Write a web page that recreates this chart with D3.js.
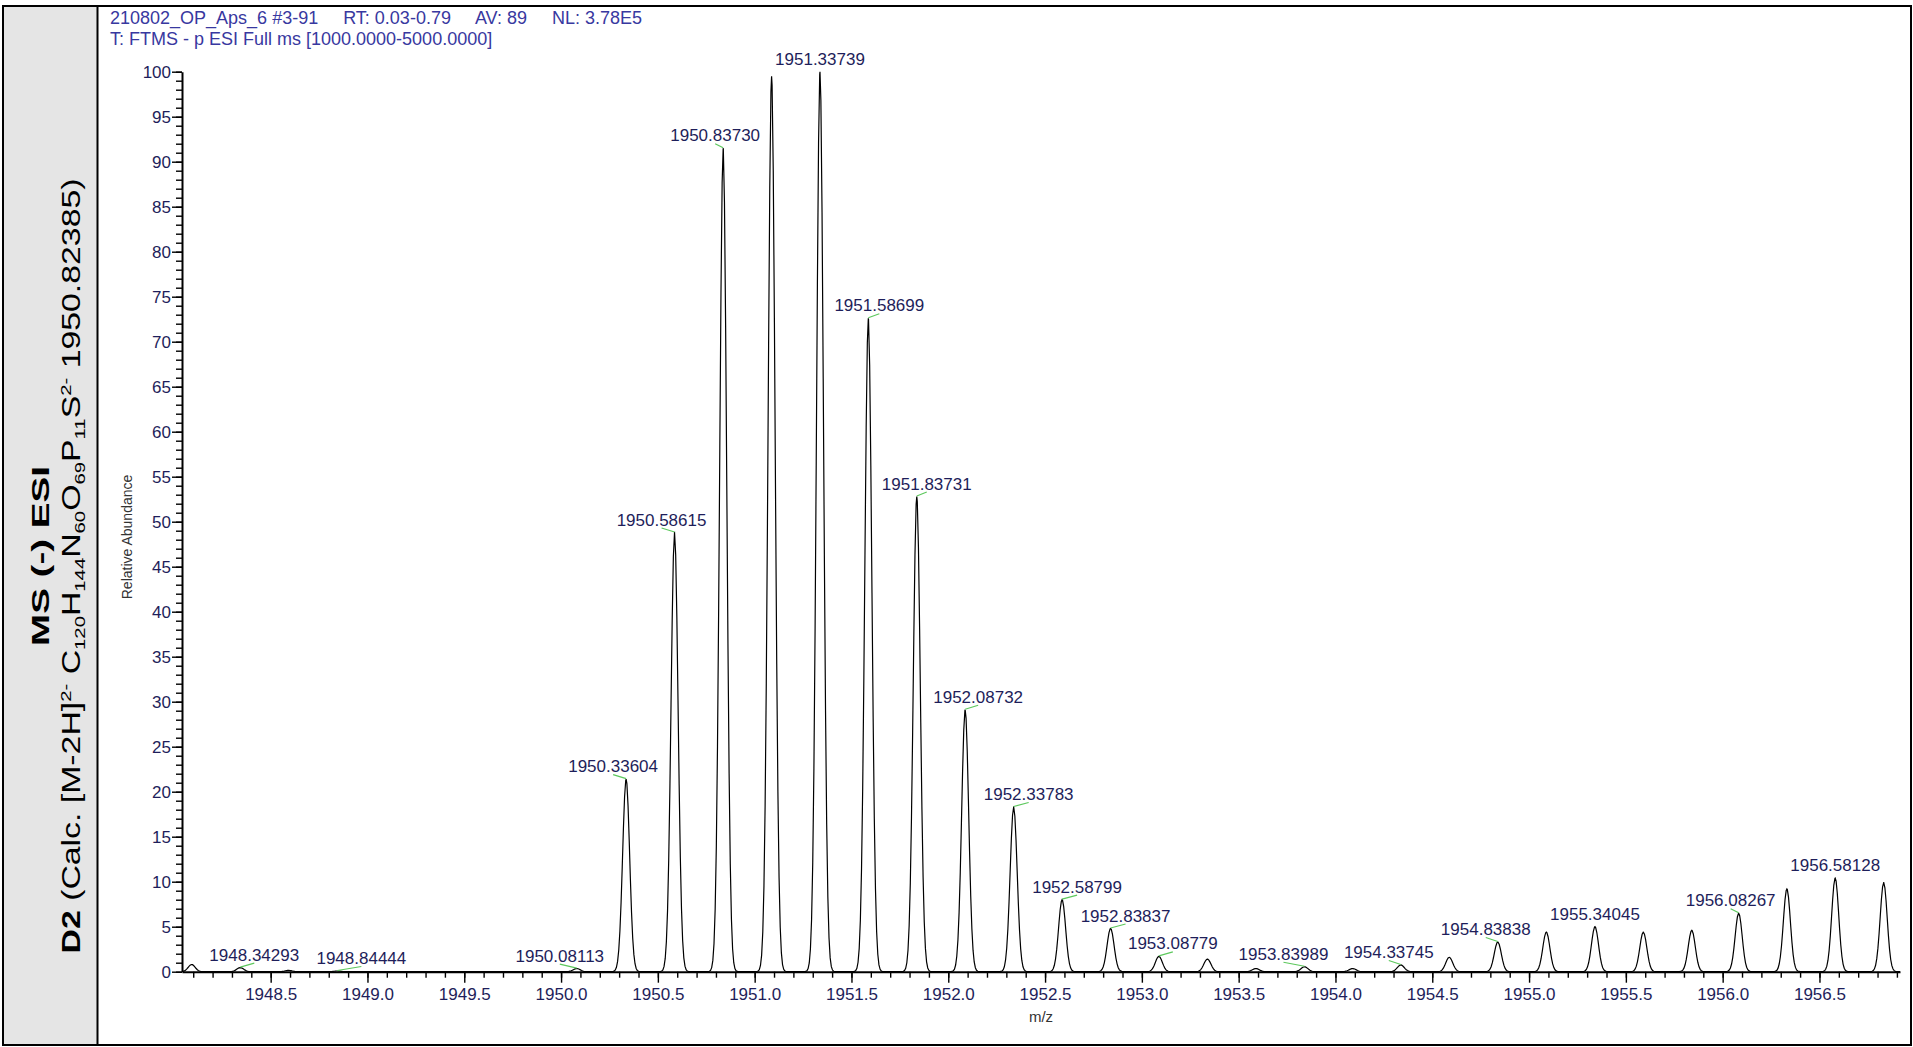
<!DOCTYPE html>
<html>
<head>
<meta charset="utf-8">
<script src="https://cdn.jsdelivr.net/npm/d3@7"></script>
<style>
  body { margin: 0; background: #fff; }
  text { font-family: "Liberation Sans", Arial, sans-serif; }
</style>
</head>
<body>
<div id="chart"></div>
<script>
// centroids: m/z, relative abundance, label ("" = no label)
const peakMz = [1948.092, 1948.34293, 1948.592, 1948.84444, 1950.08113, 1950.33604, 1950.58615,
  1950.83730, 1951.0874, 1951.33739, 1951.58699, 1951.83731, 1952.08732, 1952.33783, 1952.58799,
  1952.83837, 1953.08779, 1953.3385, 1953.5888, 1953.83989, 1954.0888, 1954.33745, 1954.5879,
  1954.83838, 1955.0892, 1955.34045, 1955.5901, 1955.8404, 1956.08267, 1956.3317, 1956.58128, 1956.8317];
const peakAbundance = [0.8, 0.45, 0.15, 0.08, 0.35, 21.4, 48.8,
  91.5, 99.5, 100, 72.6, 52.8, 29.1, 18.3, 8.0,
  4.8, 1.7, 1.4, 0.35, 0.55, 0.35, 0.75, 1.6,
  3.3, 4.4, 5.0, 4.4, 4.6, 6.5, 9.2, 10.4, 9.9];
const peakLabel = ["", "1948.34293", "", "1948.84444", "1950.08113", "1950.33604", "1950.58615",
  "1950.83730", "", "1951.33739", "1951.58699", "1951.83731", "1952.08732", "1952.33783", "1952.58799",
  "1952.83837", "1953.08779", "", "", "1953.83989", "", "1954.33745", "",
  "1954.83838", "", "1955.34045", "", "", "1956.08267", "", "1956.58128", ""];

const yTickValues = [0, 5, 10, 15, 20, 25, 30, 35, 40, 45, 50, 55, 60, 65, 70, 75, 80, 85, 90, 95, 100];
const xTickLabels = ["1948.5", "1949.0", "1949.5", "1950.0", "1950.5", "1951.0", "1951.5", "1952.0",
  "1952.5", "1953.0", "1953.5", "1954.0", "1954.5", "1955.0", "1955.5", "1956.0", "1956.5"];

const headerLines = [
  "210802_OP_Aps_6 #3-91     RT: 0.03-0.79     AV: 89     NL: 3.78E5",
  "T: FTMS - p ESI Full ms [1000.0000-5000.0000]"
];

const W = 1913, H = 1047;
const mzMin = 1948.042, mzMax = 1956.916;

const svg = d3.select("#chart").append("svg")
  .attr("width", W).attr("height", H);

// outer frame + grey side panel
svg.append("rect").attr("x", 3).attr("y", 6).attr("width", 94).attr("height", 1039)
  .attr("fill", "#e5e5e5");
svg.append("rect").attr("x", 3).attr("y", 6).attr("width", 1908).attr("height", 1039)
  .attr("fill", "none").attr("stroke", "#000").attr("stroke-width", 2);
svg.append("line").attr("x1", 97.5).attr("x2", 97.5).attr("y1", 6).attr("y2", 1045)
  .attr("stroke", "#000").attr("stroke-width", 2);

// side panel title (rotated)
svg.append("g").attr("transform", "translate(49,556) rotate(-90)")
  .append("text").attr("text-anchor", "middle")
  .style("font-family", "'Liberation Sans Narrow', 'Arial Narrow', 'Liberation Sans', sans-serif")
  .style("font-size", "24px").style("font-weight", "bold")
  .attr("textLength", 180).attr("lengthAdjust", "spacingAndGlyphs")
  .text("MS (-) ESI");

const t2 = svg.append("g").attr("transform", "translate(80,566) rotate(-90)")
  .append("text").attr("text-anchor", "middle")
  .style("font-family", "'Liberation Sans Narrow', 'Arial Narrow', 'Liberation Sans', sans-serif")
  .style("font-size", "25px")
  .attr("textLength", 775).attr("lengthAdjust", "spacingAndGlyphs");
const parts = [
  ["D2", "b"], [" (Calc. [M-2H]", ""], ["2-", "sup"], [" C", ""], ["120", "sub"], ["H", ""], ["144", "sub"],
  ["N", ""], ["60", "sub"], ["O", ""], ["69", "sub"], ["P", ""], ["11", "sub"], ["S", ""], ["2-", "sup"],
  [" 1950.82385)", ""]
];
let shift = 0;
parts.forEach(p => {
  const ts = t2.append("tspan").text(p[0]);
  let target = 0;
  if (p[1] === "sub") target = 5;
  if (p[1] === "sup") target = -9;
  ts.attr("dy", target - shift);
  shift = target;
  if (p[1] === "sub" || p[1] === "sup") ts.style("font-size", "15px");
  if (p[1] === "b") ts.style("font-weight", "bold");
});

// header
svg.selectAll(".hdr").data(headerLines).enter().append("text")
  .attr("class", "hdr")
  .attr("x", 110).attr("y", (d, i) => 24 + i * 20.5)
  .attr("fill", "#3838a0").style("font-size", "18px")
  .attr("xml:space", "preserve")
  .style("white-space", "pre")
  .text(d => d);

// scales
const x = d3.scaleLinear().domain([mzMin, mzMax]).range([182, 1900]);
const y = d3.scaleLinear().domain([0, 100]).range([971.7, 71.7]);

const tickColor = "#1e1e5a";

// y axis: minor every 1, major every 5
const yMinor = svg.append("g").attr("transform", "translate(182,0)")
  .call(d3.axisLeft(y).tickValues(d3.range(0, 101, 1)).tickSize(6).tickFormat(""));
yMinor.select(".domain").remove();
yMinor.selectAll("line").attr("stroke-width", 1.4);

const yAxis = svg.append("g").attr("transform", "translate(182,0)")
  .call(d3.axisLeft(y).tickValues(yTickValues).tickSize(10).tickSizeOuter(0).tickFormat(d3.format("d")));
yAxis.select(".domain").attr("stroke-width", 2);
yAxis.selectAll("line").attr("stroke-width", 1.4);
yAxis.selectAll("text").attr("x", -11).attr("fill", tickColor)
  .style("font-size", "17px").style("font-family", "'Liberation Sans', Arial, sans-serif");

// x axis: minor every 0.1, major every 0.5
const xMinorVals = d3.range(1948.1, 1956.95, 0.1);
const xMinor = svg.append("g").attr("transform", "translate(0,971.7)")
  .call(d3.axisBottom(x).tickValues(xMinorVals).tickSize(6).tickFormat(""));
xMinor.select(".domain").remove();
xMinor.selectAll("line").attr("stroke-width", 1.4);

const xAxis = svg.append("g").attr("transform", "translate(0,971.7)")
  .call(d3.axisBottom(x).tickValues(xTickLabels.map(Number)).tickSize(11).tickSizeOuter(0)
    .tickFormat(d3.format(".1f")));
xAxis.select(".domain").attr("stroke-width", 2);
xAxis.selectAll("line").attr("stroke-width", 1.4);
xAxis.selectAll("text").attr("y", 28.3).attr("dy", 0).attr("fill", tickColor)
  .style("font-size", "17px").style("font-family", "'Liberation Sans', Arial, sans-serif");

// axis titles
svg.append("text")
  .attr("transform", "translate(132,537) rotate(-90)")
  .attr("text-anchor", "middle").attr("fill", "#333")
  .style("font-size", "14px").text("Relative Abundance");
svg.append("text")
  .attr("x", x((mzMin + mzMax) / 2)).attr("y", 1022)
  .attr("text-anchor", "middle").attr("fill", "#333")
  .style("font-size", "15px").text("m/z");

// profile trace: each centroid drawn as a gaussian peak
const sigma = 0.0182;
const grid = d3.range(mzMin, mzMax, 0.006).concat(peakMz).sort(d3.ascending);
const profile = grid.map(m => [m, d3.sum(peakMz, (p, i) =>
  peakAbundance[i] * Math.exp(-0.5 * ((m - p) / sigma) ** 2))]);

svg.append("path")
  .datum(profile)
  .attr("fill", "none")
  .attr("stroke", "#000")
  .attr("stroke-width", 1.2)
  .attr("d", d3.line().x(d => x(d[0])).y(d => y(d[1])));

// peak labels, nudged sideways like the instrument software does
const labelNudge = {
  "1948.34293": 14, "1948.84444": 24, "1950.08113": -17, "1950.33604": -13, "1950.58615": -13,
  "1950.83730": -8, "1951.58699": 11, "1951.83731": 10, "1952.08732": 13, "1952.33783": 15,
  "1952.58799": 15, "1952.83837": 15, "1953.08779": 14, "1953.83989": -21, "1954.33745": -12,
  "1954.83838": -12, "1956.08267": -8
};

const labelled = peakMz.map((m, i) => ({ mz: m, ab: peakAbundance[i], label: peakLabel[i] }))
  .filter(d => d.label !== "");

svg.selectAll(".connector").data(labelled.filter(d => labelNudge[d.label]))
  .enter().append("line")
  .attr("class", "connector")
  .attr("x1", d => x(d.mz)).attr("y1", d => y(d.ab) - 0.5)
  .attr("x2", d => x(d.mz) + labelNudge[d.label]).attr("y2", d => y(d.ab) - 4.5)
  .attr("stroke", "#5cc85c").attr("stroke-width", 1.2);

svg.selectAll(".plabel").data(labelled)
  .enter().append("text")
  .attr("class", "plabel")
  .attr("x", d => x(d.mz) + (labelNudge[d.label] || 0))
  .attr("y", d => y(d.ab) - 7)
  .attr("text-anchor", "middle")
  .attr("fill", tickColor)
  .style("font-size", "17px")
  .text(d => d.label);
</script>
</body>
</html>
